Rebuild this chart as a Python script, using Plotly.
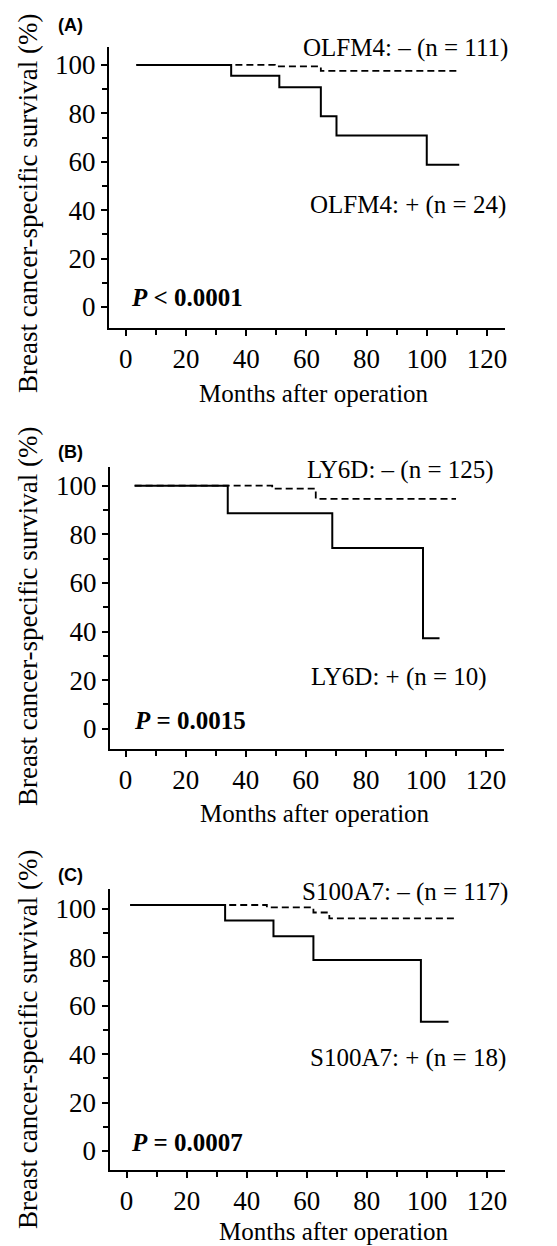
import plotly.graph_objects as go

# The page body has an 8px default margin, so the figure is drawn 8px in
# from the top-left corner; sizes/positions below compensate for that.
OFF = 8
W, H = 557 - OFF, 1246 - OFF

# ---------------- data ----------------
# Panel A: OLFM4
a_pos_t = [3.5, 35, 51, 64.8, 70, 100, 110.8]
a_pos_s = [100, 95.5, 90.8, 78.8, 70.8, 58.7, 58.7]
a_neg_t = [3.5, 49.5, 64.8, 110]
a_neg_s = [100, 99.4, 97.5, 97.5]

# Panel B: LY6D
b_pos_t = [3, 34, 68.8, 99, 104.5]
b_pos_s = [100, 88.7, 74.4, 37.2, 37.2]
b_neg_t = [3, 48.8, 63.3, 110]
b_neg_s = [100, 98.8, 94.6, 94.6]

# Panel C: S100A7
c_pos_t = [1.2, 32.8, 48.9, 62.2, 98, 107.2]
c_pos_s = [101.5, 95.1, 88.6, 78.8, 53.3, 53.3]
c_neg_t = [1.2, 46.7, 62.2, 67.5, 109]
c_neg_s = [101.5, 100.5, 98.4, 96.0, 96.0]

x_ticks = [0, 20, 40, 60, 80, 100, 120]
y_ticks = [0, 20, 40, 60, 80, 100]

panel_letters = ["(A)", "(B)", "(C)"]
neg_labels = ["OLFM4: – (n = 111)", "LY6D: – (n = 125)", "S100A7: – (n = 117)"]
pos_labels = ["OLFM4: + (n = 24)", "LY6D: + (n = 10)", "S100A7: + (n = 18)"]
p_labels = ["<b><i>P</i> &lt; 0.0001</b>", "<b><i>P</i> = 0.0015</b>", "<b><i>P</i> = 0.0007</b>"]
x_title = "Months after operation"
y_title = "Breast cancer-specific survival (%)"

# ---------------- layout geometry (page pixels) ----------------
panels = [
    dict(pos=(a_pos_t, a_pos_s), neg=(a_neg_t, a_neg_s),
         xdom=(109, 505), ydom=(47, 328), xr=(-5.6, 126.0), yr=(-8.7, 107.4),
         letter=(70, 25), neg_lab=(510, 48), pos_lab=(508, 205), p=(129, 298),
         xt=(314, 393), yt=(28, 203)),
    dict(pos=(b_pos_t, b_pos_s), neg=(b_neg_t, b_neg_s),
         xdom=(110, 503.5), ydom=(467, 749), xr=(-5.2, 125.8), yr=(-8.35, 107.7),
         letter=(70, 452), neg_lab=(496, 470), pos_lab=(489, 677), p=(132, 720),
         xt=(315, 813), yt=(28, 616)),
    dict(pos=(c_pos_t, c_pos_s), neg=(c_neg_t, c_neg_s),
         xdom=(109.5, 505), ydom=(889, 1170), xr=(-5.7, 126.0), yr=(-7.84, 108.1),
         letter=(70, 875), neg_lab=(510, 892), pos_lab=(508, 1058), p=(129, 1142),
         xt=(334, 1231), yt=(28, 1039)),
]

SERIF = "Liberation Serif, Times New Roman, serif"
SANS = "Liberation Sans, Arial, sans-serif"

def px(x):
    return (x - OFF) / W

def py(y):
    return 1 - (y - OFF) / H

fig = go.Figure()
annotations = []
layout = dict(
    template="none",
    width=W, height=H,
    margin=dict(l=0, r=0, t=0, b=0, autoexpand=False),
    paper_bgcolor="white", plot_bgcolor="white",
    showlegend=False,
)

for i, p in enumerate(panels):
    k = "" if i == 0 else str(i + 1)
    xa, ya = "x" + k, "y" + k
    fig.add_trace(go.Scatter(x=p["neg"][0], y=p["neg"][1], mode="lines",
                             line=dict(color="black", width=1.8, dash="7px,4px", shape="hv"),
                             xaxis=xa, yaxis=ya, hoverinfo="skip"))
    fig.add_trace(go.Scatter(x=p["pos"][0], y=p["pos"][1], mode="lines",
                             line=dict(color="black", width=2, shape="hv"),
                             xaxis=xa, yaxis=ya, hoverinfo="skip"))
    layout["xaxis" + k] = dict(
        domain=[px(p["xdom"][0]), px(p["xdom"][1])], range=list(p["xr"]),
        anchor=ya, showline=True, linecolor="black", linewidth=2,
        showgrid=False, zeroline=False, automargin=False,
        tickmode="array", tickvals=x_ticks, ticks="outside", ticklen=6, tickwidth=1.5,
        tickcolor="black",
        minor=dict(tickmode="linear", tick0=10, dtick=20, ticks="outside", ticklen=5,
                   tickwidth=1.5, tickcolor="black", showgrid=False),
        tickfont=dict(family=SERIF, size=27, color="black"),
        fixedrange=True,
    )
    layout["yaxis" + k] = dict(
        domain=[py(p["ydom"][1]), py(p["ydom"][0])], range=list(p["yr"]),
        anchor=xa, showline=True, linecolor="black", linewidth=2,
        showgrid=False, zeroline=False, automargin=False,
        tickmode="array", tickvals=y_ticks, ticks="outside", ticklen=6, tickwidth=1.5,
        tickcolor="black",
        minor=dict(tickmode="linear", tick0=10, dtick=20, ticks="outside", ticklen=5,
                   tickwidth=1.5, tickcolor="black", showgrid=False),
        tickfont=dict(family=SERIF, size=27, color="black"),
        fixedrange=True,
    )
    annotations += [
        dict(text="<b>" + panel_letters[i] + "</b>", x=px(p["letter"][0]), y=py(p["letter"][1]),
             xref="paper", yref="paper", xanchor="center", yanchor="middle", showarrow=False,
             font=dict(family=SANS, size=18, color="black")),
        dict(text=neg_labels[i], x=px(p["neg_lab"][0]), y=py(p["neg_lab"][1]),
             xref="paper", yref="paper", xanchor="right", yanchor="middle", showarrow=False,
             font=dict(family=SERIF, size=25, color="black")),
        dict(text=pos_labels[i], x=px(p["pos_lab"][0]), y=py(p["pos_lab"][1]),
             xref="paper", yref="paper", xanchor="right", yanchor="middle", showarrow=False,
             font=dict(family=SERIF, size=25, color="black")),
        dict(text=p_labels[i], x=px(p["p"][0]), y=py(p["p"][1]),
             xref="paper", yref="paper", xanchor="left", yanchor="middle", showarrow=False,
             font=dict(family=SERIF, size=25, color="black")),
        dict(text=x_title, x=px(p["xt"][0]), y=py(p["xt"][1]),
             xref="paper", yref="paper", xanchor="center", yanchor="middle", showarrow=False,
             font=dict(family=SERIF, size=25, color="black")),
        dict(text=y_title, x=px(p["yt"][0]), y=py(p["yt"][1]), textangle=-90,
             xref="paper", yref="paper", xanchor="center", yanchor="middle", showarrow=False,
             font=dict(family=SERIF, size=27, color="black")),
    ]

layout["annotations"] = annotations
fig.update_layout(**layout)
fig.write_html("out.html")
